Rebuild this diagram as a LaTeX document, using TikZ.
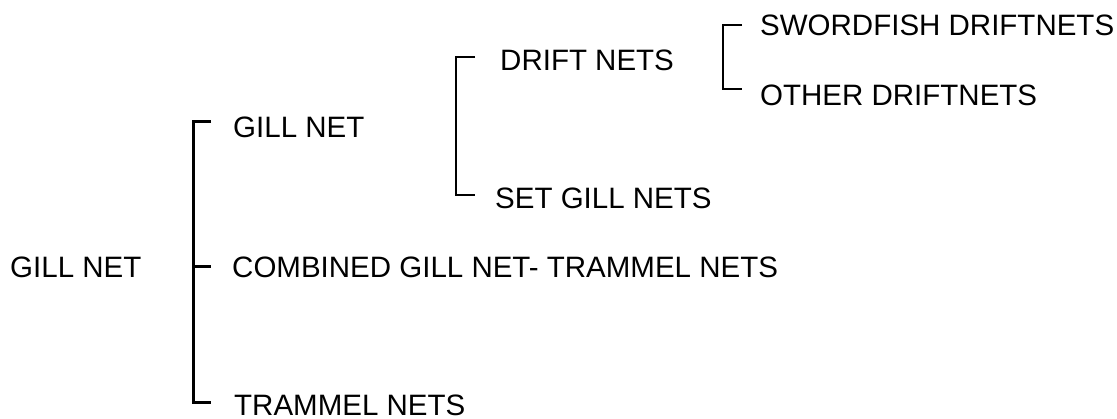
\documentclass[tikz,border=0pt]{standalone}
\usepackage{fontspec}
\setmainfont{Liberation Sans}
\begin{document}
\begin{tikzpicture}[x=1pt,y=-1pt,
  lbl/.style={anchor=base west,inner sep=0pt,text depth=0pt,font=\fontsize{29.5}{32}\selectfont},
  brk/.style={line width=2pt,line join=miter},
  mainbrk/.style={line width=3pt,line join=miter}]
\useasboundingbox (0,0) rectangle (1117,419);
% labels
\node[lbl] (root) at (10,278) {GILL NET};
\node[lbl] (gill) at (233,138) {GILL NET};
\node[lbl] (comb) at (232,278) {COMBINED GILL NET- TRAMMEL NETS};
\node[lbl] (tram) at (234,415.5) {TRAMMEL NETS};
\node[lbl] (drift) at (500,71) {DRIFT NETS};
\node[lbl] (setg) at (495,209) {SET GILL NETS};
\node[lbl] (sword) at (760,36) {SWORDFISH DRIFTNETS};
\node[lbl] (other) at (760,106) {OTHER DRIFTNETS};
% bracket corners
\coordinate (aTop) at (193,122);
\coordinate (aMid) at (193,267);
\coordinate (aBot) at (193,403);
\coordinate (aTopE) at (211,122);
\coordinate (aMidE) at (211,267);
\coordinate (aBotE) at (211,403);
\coordinate (bTop) at (456,57);
\coordinate (bBot) at (456,195);
\coordinate (bTopE) at (475,57);
\coordinate (bBotE) at (475,195);
\coordinate (cTop) at (723,25);
\coordinate (cBot) at (723,89);
\coordinate (cTopE) at (742,25);
\coordinate (cBotE) at (742,89);
% brackets
\draw[mainbrk] (aTopE) -- (aTop) -- (aBot) -- (aBotE);
\draw[mainbrk] (aMid) -- (aMidE);
\draw[brk] (bTopE) -- (bTop) -- (bBot) -- (bBotE);
\draw[brk] (cTopE) -- (cTop) -- (cBot) -- (cBotE);
\end{tikzpicture}
\end{document}
